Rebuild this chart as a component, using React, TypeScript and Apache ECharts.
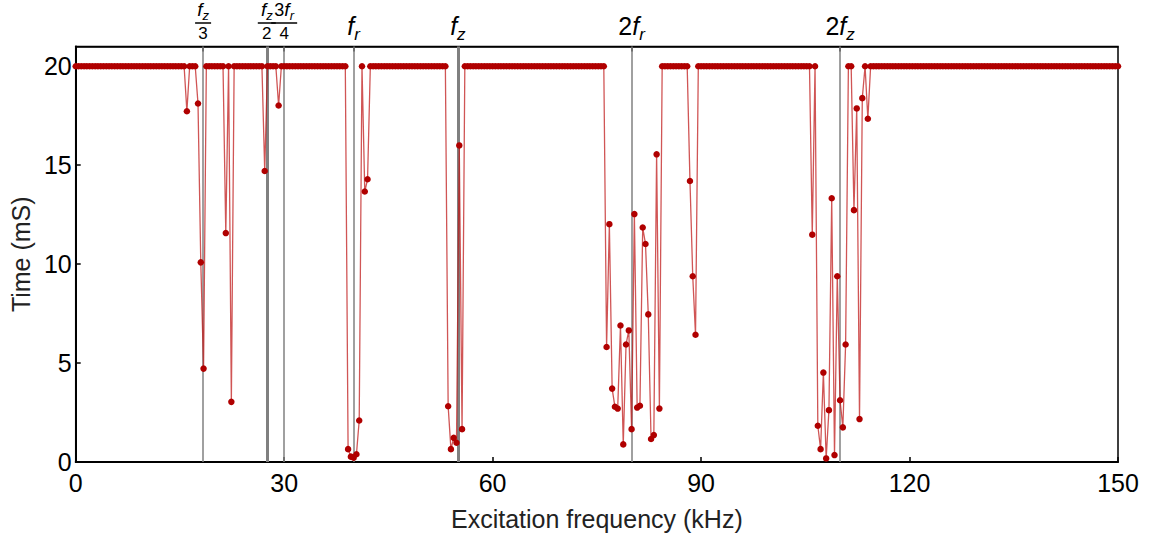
import React, { useEffect, useRef } from "react";
import * as echarts from "echarts";

// Sampling step of the excitation-frequency sweep (kHz)
const FREQ_STEP_KHZ = 0.4;

// Time to loss (mS) at each excitation frequency sample, 0 ... 150 kHz
const TIME_MS: number[] = [
  20, 20, 20, 20, 20, 20, 20, 20, 20, 20, 20, 20, 20, 20, 20, 20, 20, 20, 20, 20,
  20, 20, 20, 20, 20, 20, 20, 20, 20, 20, 20, 20, 20, 20, 20, 20, 20, 20, 20, 20,
  17.73, 20, 20, 20, 18.12, 10.09, 4.72, 20, 20, 20, 20, 20, 20, 20, 11.57, 20, 3.04, 20, 20, 20,
  20, 20, 20, 20, 20, 20, 20, 20, 14.71, 20, 20, 20, 20, 18.02, 20, 20, 20, 20, 20, 20,
  20, 20, 20, 20, 20, 20, 20, 20, 20, 20, 20, 20, 20, 20, 20, 20, 20, 20, 0.65, 0.27,
  0.22, 0.39, 2.1, 20, 13.67, 14.29, 20, 20, 20, 20, 20, 20, 20, 20, 20, 20, 20, 20, 20, 20,
  20, 20, 20, 20, 20, 20, 20, 20, 20, 20, 20, 20, 20, 20, 2.82, 0.65, 1.22, 0.97, 16.0, 1.66,
  20, 20, 20, 20, 20, 20, 20, 20, 20, 20, 20, 20, 20, 20, 20, 20, 20, 20, 20, 20,
  20, 20, 20, 20, 20, 20, 20, 20, 20, 20, 20, 20, 20, 20, 20, 20, 20, 20, 20, 20,
  20, 20, 20, 20, 20, 20, 20, 20, 20, 20, 20, 5.81, 12.02, 3.71, 2.79, 2.7, 6.9, 0.89, 5.94, 6.65,
  1.66, 12.53, 2.75, 2.84, 11.85, 11.02, 7.46, 1.16, 1.36, 15.55, 2.7, 20, 20, 20, 20, 20, 20, 20, 20, 20,
  20, 14.2, 9.39, 6.43, 20, 20, 20, 20, 20, 20, 20, 20, 20, 20, 20, 20, 20, 20, 20, 20,
  20, 20, 20, 20, 20, 20, 20, 20, 20, 20, 20, 20, 20, 20, 20, 20, 20, 20, 20, 20,
  20, 20, 20, 20, 20, 11.49, 20, 1.83, 0.65, 4.52, 0.18, 2.62, 13.33, 0.35, 9.39, 3.12, 1.75, 5.94, 20, 20,
  12.73, 17.87, 2.17, 18.39, 20, 17.35, 20, 20, 20, 20, 20, 20, 20, 20, 20, 20, 20, 20, 20, 20,
  20, 20, 20, 20, 20, 20, 20, 20, 20, 20, 20, 20, 20, 20, 20, 20, 20, 20, 20, 20,
  20, 20, 20, 20, 20, 20, 20, 20, 20, 20, 20, 20, 20, 20, 20, 20, 20, 20, 20, 20,
  20, 20, 20, 20, 20, 20, 20, 20, 20, 20, 20, 20, 20, 20, 20, 20, 20, 20, 20, 20,
  20, 20, 20, 20, 20, 20, 20, 20, 20, 20, 20, 20, 20, 20, 20, 20,
];

// Characteristic frequencies (kHz)
const F_R = 40;
const F_Z = 55;
const MARKER_FREQS = [F_Z / 3, F_Z / 2, (3 * F_R) / 4, F_R, F_Z, 2 * F_R, 2 * F_Z];
const MARKER_LABELS = [
  "{fi|f}{fs|z}\n{barA| }\n{fd|3}",
  "{fi|f}{fs|z}\n{barB| }\n{fd|2}",
  "{fn|3}{fi|f}{fs|r}\n{barC| }\n{fd|4}",
  "{bi|f}{bs|r}",
  "{bi|f}{bs|z}",
  "{bn|2}{bi|f}{bs|r}",
  "{bn|2}{bi|f}{bs|z}",
];
const THICK_MARKERS = [1, 4];

const X_MIN = 0;
const X_MAX = 150;
const X_INTERVAL = 30;
const Y_MIN = 0;
const Y_MAX = 21;
const Y_TICKS = [0, 5, 10, 15, 20];

const FONT = "'Liberation Sans', Arial, sans-serif";

export default function App() {
  const ref = useRef<HTMLDivElement>(null);

  useEffect(() => {
    if (!ref.current) return;
    const chart = echarts.init(ref.current, undefined, { renderer: "svg" });
    const data = TIME_MS.map((t, i) => [+(i * FREQ_STEP_KHZ).toFixed(2), t]);

    const option: any = {
      animation: false,
      backgroundColor: "#fff",
      textStyle: { fontFamily: FONT },
      grid: {
        left: 73,
        right: 32,
        top: 45,
        bottom: 76,
        show: true,
        borderColor: "#000",
        borderWidth: 1.5,
        backgroundColor: "transparent",
      },
      xAxis: [
        {
          type: "value",
          min: X_MIN,
          max: X_MAX,
          interval: X_INTERVAL,
          position: "bottom",
          name: "Excitation frequency (kHz)",
          nameLocation: "middle",
          nameGap: 44,
          nameTextStyle: { fontSize: 25, color: "#222", fontFamily: FONT },
          axisLine: { show: true, lineStyle: { color: "#000", width: 2 } },
          axisTick: { show: true, inside: true, length: 5, lineStyle: { color: "#000", width: 1.5 } },
          axisLabel: { fontSize: 25, color: "#000", margin: 8, fontFamily: FONT },
          splitLine: { show: false },
        },
        {
          type: "value",
          min: X_MIN,
          max: X_MAX,
          position: "top",
          axisLine: { show: true, lineStyle: { color: "#000", width: 1.5 } },
          axisTick: {
            show: true,
            inside: true,
            length: 5,
            customValues: MARKER_FREQS,
            lineStyle: { color: "#000", width: 1.5 },
          },
          axisLabel: {
            show: true,
            customValues: MARKER_FREQS,
            margin: 4,
            hideOverlap: false,
            color: "#000",
            fontFamily: FONT,
            formatter: (v: number) => {
              const i = MARKER_FREQS.findIndex((f) => Math.abs(f - v) < 1e-6);
              return i >= 0 ? MARKER_LABELS[i] : "";
            },
            rich: {
              bi: { fontStyle: "italic", fontSize: 25, fontFamily: FONT, color: "#000", height: 26, lineHeight: 30, verticalAlign: "top" },
              bn: { fontSize: 25, fontFamily: FONT, color: "#000", height: 26, lineHeight: 30, verticalAlign: "top" },
              bs: { fontStyle: "italic", fontSize: 17, fontFamily: FONT, color: "#000", height: 17, lineHeight: 30, verticalAlign: "bottom" },
              fi: { fontStyle: "italic", fontSize: 19, fontFamily: FONT, color: "#000", height: 18, lineHeight: 21, verticalAlign: "top" },
              fn: { fontSize: 18, fontFamily: FONT, color: "#000", height: 18, lineHeight: 21, verticalAlign: "top" },
              fs: { fontStyle: "italic", fontSize: 13, fontFamily: FONT, color: "#000", height: 13, lineHeight: 21, verticalAlign: "bottom" },
              fd: { fontSize: 17, fontFamily: FONT, color: "#000", lineHeight: 18 },
              barA: { width: 16, height: 1.5, lineHeight: 3, fontSize: 1, backgroundColor: "#000" },
              barB: { width: 18, height: 1.5, lineHeight: 3, fontSize: 1, backgroundColor: "#000" },
              barC: { width: 26, height: 1.5, lineHeight: 3, fontSize: 1, backgroundColor: "#000" },
            },
          },
          splitLine: { show: false },
        },
      ],
      yAxis: {
        type: "value",
        min: Y_MIN,
        max: Y_MAX,
        name: "Time (mS)",
        nameLocation: "middle",
        nameGap: 38,
        nameTextStyle: { fontSize: 25, color: "#222", fontFamily: FONT },
        axisLine: { show: true, lineStyle: { color: "#000", width: 2 } },
        axisTick: { show: true, inside: true, length: 5, customValues: Y_TICKS, lineStyle: { color: "#000", width: 1.5 } },
        axisLabel: { fontSize: 25, color: "#000", margin: 4, customValues: Y_TICKS, fontFamily: FONT },
        splitLine: { show: false },
      },
      series: [
        {
          type: "line",
          name: "markers",
          xAxisIndex: 0,
          data: [],
          z: 1,
          markLine: {
            z: 1,
            silent: true,
            symbol: ["none", "none"],
            label: { show: false },
            animation: false,
            data: MARKER_FREQS.map((f, i) => ({
              xAxis: f,
              lineStyle: {
                color: "#808080",
                type: "solid",
                width: THICK_MARKERS.includes(i) ? 3 : 1.5,
              },
            })),
          },
        },
        {
          type: "line",
          name: "time",
          xAxisIndex: 0,
          data,
          symbol: "circle",
          symbolSize: 6.5,
          showAllSymbol: true,
          itemStyle: { color: "#b00000" },
          lineStyle: { color: "rgba(190,20,20,0.72)", width: 1.3 },
          z: 3,
        },
      ],
    };

    chart.setOption(option);
    return () => chart.dispose();
  }, []);

  return (
    <div
      ref={ref}
      style={{ position: "fixed", left: 0, top: 0, width: 1150, height: 538, background: "#fff" }}
    />
  );
}
